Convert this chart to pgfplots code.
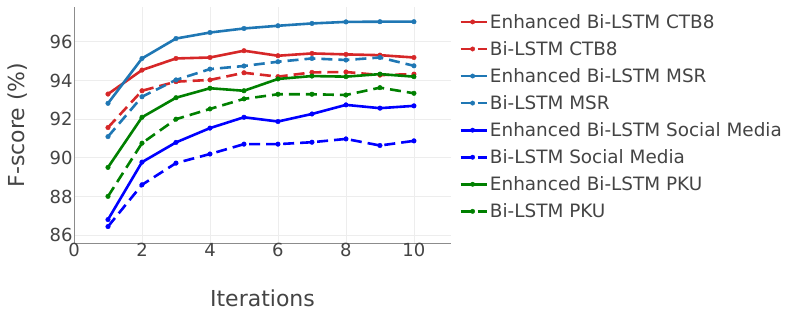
\documentclass[border=0pt]{standalone}
\usepackage{pgfplots}
\pgfplotsset{compat=1.18}
\usepackage{fontspec}
\setmainfont{DejaVu Sans}
\definecolor{cred}{HTML}{D62728}
\definecolor{csteel}{HTML}{1F77B4}
\definecolor{cblue}{HTML}{0000FF}
\definecolor{cgreen}{HTML}{008000}
\definecolor{ctext}{HTML}{444444}
\begin{document}
\begin{tikzpicture}
\useasboundingbox (-74bp,-70bp) rectangle (715bp,243bp);
\begin{axis}[
  at={(0,0)}, anchor=south west,
  scale only axis, width=377bp, height=236bp,
  xmin=0, xmax=11.09, ymin=85.6, ymax=97.8,
  xtick={0,2,...,10}, ytick={86,88,...,96},
  grid=major, major grid style={draw=black!7, line width=0.8bp},
  axis x line*=bottom, axis y line*=left,
  axis line style={draw=black!45, line width=0.8bp, -},
  tick style={draw=none},
  /pgf/number format/assume math mode=true,
  tick label style={font=\fontsize{18bp}{21bp}\selectfont, text=ctext},
  xticklabel style={yshift=3bp},
  yticklabel style={xshift=2bp},
  xlabel={Iterations}, ylabel={F-score (\%)},
  every axis x label/.style={at={(axis description cs:0.5,0)}, yshift=-55bp, anchor=center, font=\fontsize{22bp}{26bp}\selectfont, text=ctext},
  every axis y label/.style={at={(axis description cs:0,0.5)}, xshift=-56bp, anchor=center, rotate=90, font=\fontsize{22bp}{26bp}\selectfont, text=ctext},
  legend style={at={(1,1)}, anchor=north west, xshift=8bp, yshift=-3bp, draw=none, fill=none,
    font=\fontsize{18.4bp}{21bp}\selectfont, text=ctext, row sep=7.6bp,
    legend cell align=left, inner xsep=0pt},
  legend image code/.code={\draw[#1, line width=2.8bp, mark=none] (0bp,0bp) -- (26bp,0bp);
     \draw[#1, solid, line width=0.4bp, mark=*, mark size=2.2bp] plot coordinates {(12bp,0bp)};},
  every axis plot/.append style={line width=2.6bp, mark=*, mark size=2.3bp, mark options={solid, line width=0.4bp}},
]
\addplot[cred] coordinates {(1,93.30)(2,94.54)(3,95.14)(4,95.19)(5,95.54)(6,95.28)(7,95.40)(8,95.35)(9,95.31)(10,95.19)};
\addlegendentry{Enhanced Bi-LSTM CTB8}
\addplot[cred, dash pattern=on 11bp off 6bp] coordinates {(1,91.57)(2,93.47)(3,93.94)(4,94.03)(5,94.40)(6,94.20)(7,94.42)(8,94.44)(9,94.28)(10,94.33)};
\addlegendentry{Bi-LSTM CTB8}
\addplot[csteel] coordinates {(1,92.82)(2,95.14)(3,96.17)(4,96.48)(5,96.69)(6,96.83)(7,96.95)(8,97.03)(9,97.04)(10,97.04)};
\addlegendentry{Enhanced Bi-LSTM MSR}
\addplot[csteel, dash pattern=on 11bp off 6bp] coordinates {(1,91.10)(2,93.16)(3,94.03)(4,94.59)(5,94.75)(6,94.97)(7,95.14)(8,95.06)(9,95.19)(10,94.76)};
\addlegendentry{Bi-LSTM MSR}
\addplot[cblue] coordinates {(1,86.81)(2,89.78)(3,90.80)(4,91.54)(5,92.10)(6,91.88)(7,92.27)(8,92.74)(9,92.57)(10,92.69)};
\addlegendentry{Enhanced Bi-LSTM Social Media}
\addplot[cblue, dash pattern=on 11bp off 6bp] coordinates {(1,86.45)(2,88.61)(3,89.73)(4,90.20)(5,90.71)(6,90.71)(7,90.81)(8,90.98)(9,90.64)(10,90.88)};
\addlegendentry{Bi-LSTM Social Media}
\addplot[cgreen] coordinates {(1,89.51)(2,92.10)(3,93.11)(4,93.60)(5,93.47)(6,94.08)(7,94.23)(8,94.20)(9,94.33)(10,94.20)};
\addlegendentry{Enhanced Bi-LSTM PKU}
\addplot[cgreen, dash pattern=on 11bp off 6bp] coordinates {(1,88.01)(2,90.76)(3,92.00)(4,92.53)(5,93.05)(6,93.29)(7,93.29)(8,93.25)(9,93.63)(10,93.34)};
\addlegendentry{Bi-LSTM PKU}
\end{axis}
\end{tikzpicture}
\end{document}
